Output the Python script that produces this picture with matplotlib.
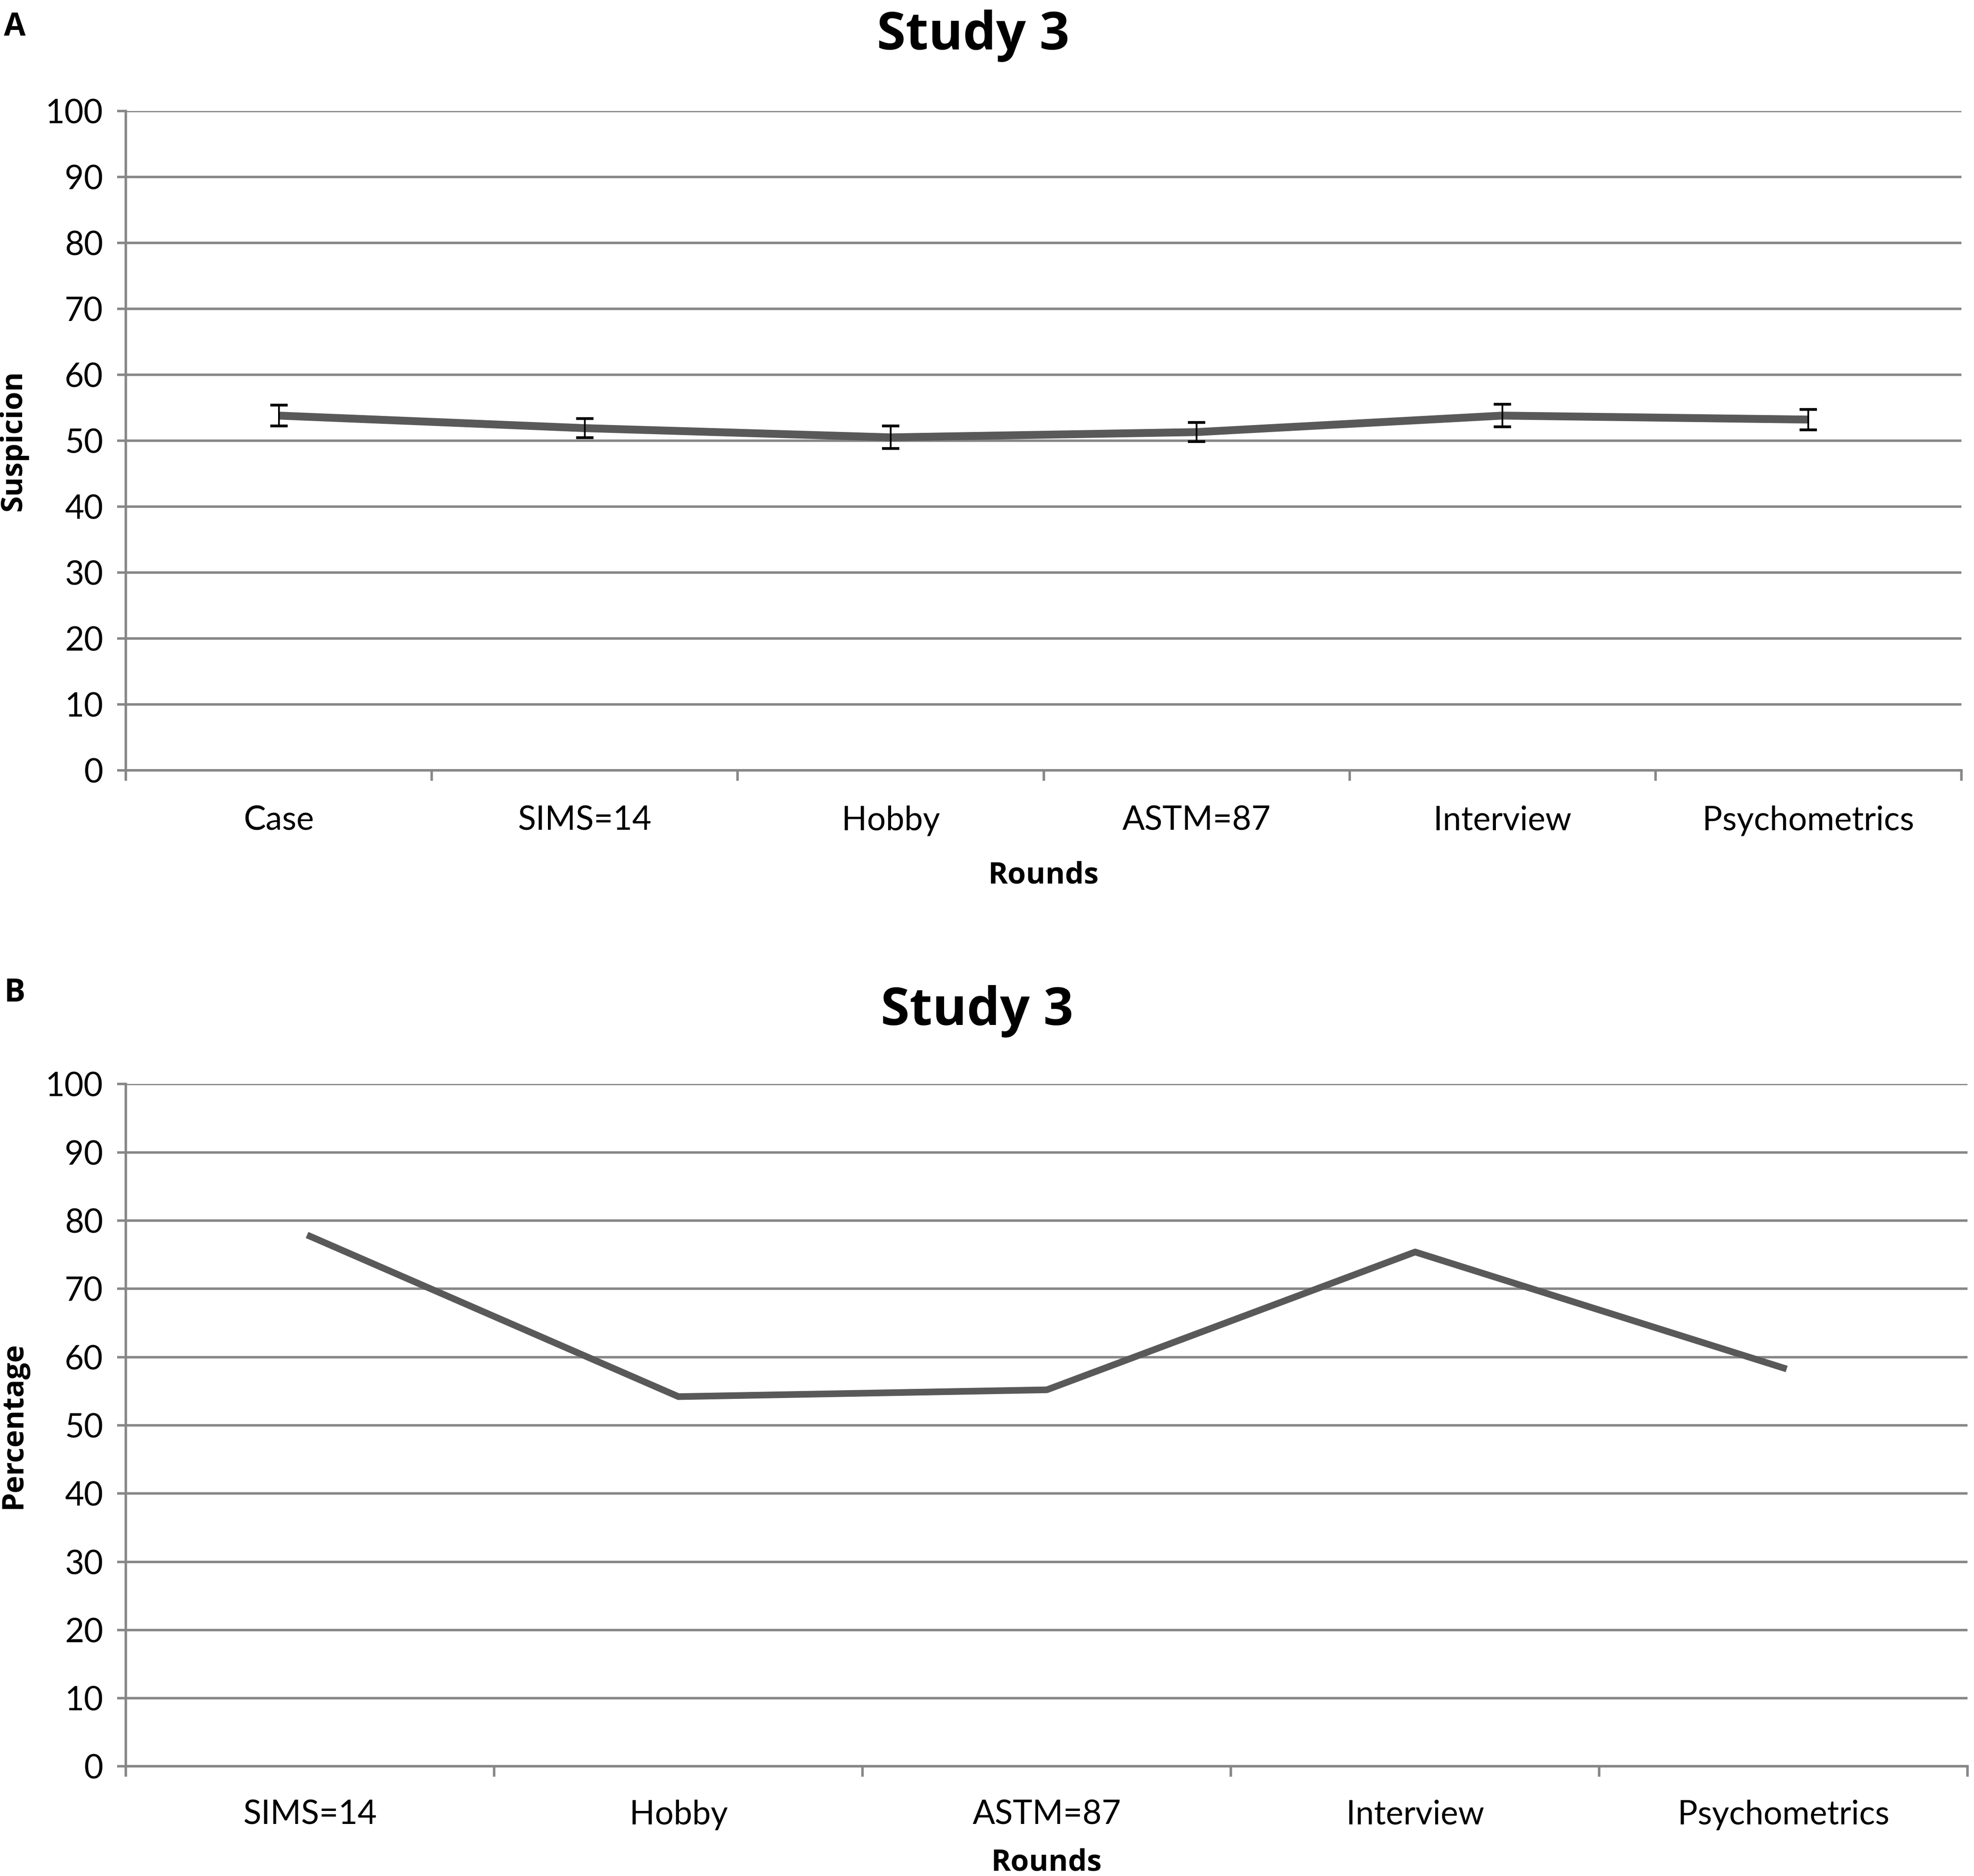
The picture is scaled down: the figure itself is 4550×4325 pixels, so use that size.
import numpy as np
import matplotlib
matplotlib.use("Agg")
import matplotlib.pyplot as plt

# panel A data
rounds_a = ["Case", "SIMS=14", "Hobby", "ASTM=87", "Interview", "Psychometrics"]
suspicion = [53.8, 51.9, 50.5, 51.3, 53.8, 53.2]
suspicion_err = [1.6, 1.45, 1.7, 1.45, 1.7, 1.55]

# panel B data
rounds_b = ["SIMS=14", "Hobby", "ASTM=87", "Interview", "Psychometrics"]
percentage = [77.7, 54.2, 55.2, 75.4, 58.4]

y_ticks = list(range(0, 101, 10))

tickf = ["Lato", "DejaVu Sans"]
boldf = ["Open Sans", "DejaVu Sans"]
grid_c = "#868686"
line_c = "#595959"

fig = plt.figure(figsize=(4550 / 290, 4325 / 290), dpi=290)


def style_axes(ax, cats, ylabel, xpad, lpad):
    n = len(cats)
    ax.set_xlim(0, n)
    ax.set_ylim(0, 100)
    ax.set_yticks(y_ticks)
    ax.set_yticklabels([str(v) for v in y_ticks], family=tickf, fontsize=19)
    ax.set_xticks(range(n + 1))
    ax.set_xticklabels([])
    ax.set_xticks(np.arange(n) + 0.5, minor=True)
    ax.set_xticklabels(cats, minor=True, family=tickf, fontsize=19)
    ax.tick_params(axis="x", which="minor", length=0, pad=xpad)
    ax.tick_params(axis="x", which="major", length=6, width=1.4, color=grid_c, direction="out")
    ax.tick_params(axis="y", length=5, width=1.4, color=grid_c, direction="out", pad=8)
    ax.yaxis.grid(True, color=grid_c, linewidth=1.4)
    ax.set_axisbelow(True)
    for s in ["top", "right"]:
        ax.spines[s].set_visible(False)
    ax.spines["left"].set_color(grid_c)
    ax.spines["left"].set_linewidth(1.4)
    ax.spines["bottom"].set_color(grid_c)
    ax.spines["bottom"].set_linewidth(1.4)
    ax.set_xlabel("Rounds", family=boldf, fontweight="bold", fontsize=17, labelpad=lpad)
    ax.set_ylabel(ylabel, family=boldf, fontweight="bold", fontsize=17, labelpad=10)


ax1 = fig.add_axes([0.0638, 0.5893, 0.9298, 0.3516])
x1 = np.arange(len(rounds_a)) + 0.5
ax1.plot(x1, suspicion, color=line_c, linewidth=4.5, solid_capstyle="butt", zorder=3)
ax1.errorbar(x1, suspicion, yerr=suspicion_err, fmt="none", ecolor="black",
             elinewidth=1.0, capsize=5, capthick=1.6, zorder=4)
style_axes(ax1, rounds_a, "Suspicion", 20, 14)

ax2 = fig.add_axes([0.0638, 0.0584, 0.9330, 0.3637])
x2 = np.arange(len(rounds_b)) + 0.5
ax2.plot(x2, percentage, color=line_c, linewidth=3.8, zorder=3)
style_axes(ax2, rounds_b, "Percentage", 19, 10)

fig.text(0.493, 0.995, "Study 3", family=boldf, fontweight="bold", fontsize=30,
         ha="center", va="top")
fig.text(0.495, 0.475, "Study 3", family=boldf, fontweight="bold", fontsize=30,
         ha="center", va="top")

fig.text(0.002, 0.994, "A", family=boldf, fontweight="bold", fontsize=18, va="top")
fig.text(0.002, 0.479, "B", family=boldf, fontweight="bold", fontsize=18, va="top")

fig.savefig("out.png", dpi=290, facecolor="white")
